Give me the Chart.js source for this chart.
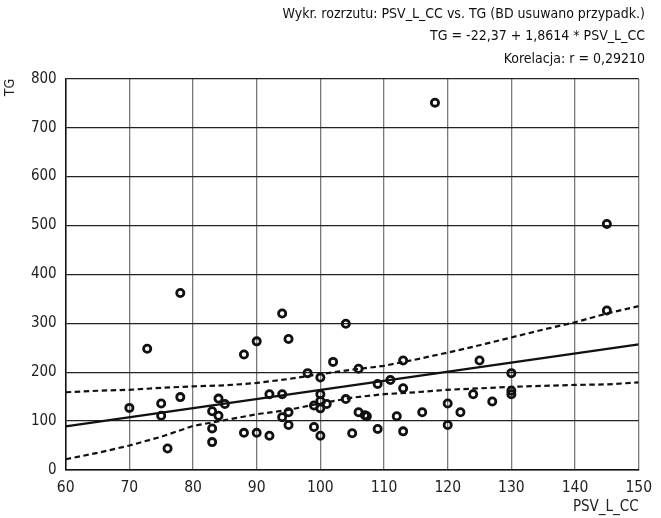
<!DOCTYPE html>
<html>
<head>
<meta charset="utf-8">
<script src="https://cdn.jsdelivr.net/npm/chart.js@4.4.1/dist/chart.umd.min.js"></script>
<style>
  html, body { margin: 0; padding: 0; background: #ffffff; }
  #wrap { width: 661px; height: 518px; }
</style>
</head>
<body>
<div id="wrap"><canvas id="c" width="661" height="518"></canvas></div>
<script>
// ---- data ----
const titleLines = [
  'Wykr. rozrzutu: PSV_L_CC vs. TG (BD usuwano przypadk.)',
  'TG = -22,37 + 1,8614 * PSV_L_CC',
  'Korelacja: r = 0,29210'
];
const xTitle = 'PSV_L_CC';
const yTitle = 'TG';

// scatter points (PSV_L_CC, TG)
const psv = [70, 72.8, 75, 75, 76, 78, 78, 83, 83, 83, 84, 84, 85, 88, 88, 90, 90, 92, 92, 94,
             94, 94, 95, 95, 95, 98, 99, 99, 100, 100, 100, 100, 100, 101, 102, 104, 104, 105, 106, 106,
             107, 107.3, 109, 109, 111, 112, 113, 113, 113, 116, 118, 120, 120, 122, 124, 125, 127, 130, 130, 130,
             145, 145];
const tg  = [127, 248, 136, 111, 44, 362, 149, 120, 85, 57, 146, 111, 135, 236, 76, 263, 76, 155, 70, 320,
             155, 108, 268, 118, 92, 198, 132, 88, 189, 155, 141, 126, 70, 135, 221, 299, 145, 75, 207, 118,
             112, 110, 176, 84, 184, 110, 224, 167, 79, 118, 751, 136, 92, 118, 155, 224, 140, 198, 162, 155,
             326, 503];

// regression line end points
const fitX = [60, 150];
const fitY = [89.3, 256.8];

// confidence band (dashed) read at every 5 units
const bandX     = [60, 65, 70, 75, 80, 85, 90, 95, 100, 105, 110, 115, 120, 125, 130, 135, 140, 145, 150];
const bandUpper = [159, 162, 164, 168, 171, 173, 178, 186, 196, 205, 213, 226, 240, 255, 271, 287, 302, 320, 335];
const bandLower = [22, 35, 50, 68, 90, 102, 114, 123, 136, 148, 155, 159, 164, 167, 170, 172, 174, 175, 179];

// axis ticks
const xTicks = [60, 70, 80, 90, 100, 110, 120, 130, 140, 150];
const yTicks = [0, 100, 200, 300, 400, 500, 600, 700, 800];

// ---- build chart ----
const FONT = "'DejaVu Sans Condensed', 'Liberation Sans Narrow', sans-serif";
const pts = (xa, ya) => xa.map((x, i) => ({ x: x, y: ya[i] }));

new Chart(document.getElementById('c'), {
  type: 'scatter',
  data: {
    datasets: [
      {
        type: 'line', data: pts(bandX, bandUpper), borderColor: '#111', borderWidth: 2.2,
        borderDash: [5.5, 3.5], pointRadius: 0, fill: false, tension: 0, order: 3
      },
      {
        type: 'line', data: pts(bandX, bandLower), borderColor: '#111', borderWidth: 2.2,
        borderDash: [5.5, 3.5], pointRadius: 0, fill: false, tension: 0, order: 3
      },
      {
        type: 'line', data: pts(fitX, fitY), borderColor: '#111', borderWidth: 2.4,
        pointRadius: 0, fill: false, tension: 0, order: 2
      },
      {
        data: pts(psv, tg), showLine: false, pointStyle: 'circle', pointRadius: 3.6,
        borderWidth: 2.8, borderColor: '#111', backgroundColor: 'rgba(0,0,0,0)', order: 1
      }
    ]
  },
  options: {
    responsive: false,
    animation: false,
    devicePixelRatio: 1,
    layout: { padding: { left: 0, right: 16, top: 0, bottom: 0 } },
    plugins: {
      legend: { display: false },
      tooltip: { enabled: false },
      title: {
        display: true, text: titleLines, align: 'end', color: '#111',
        font: { family: FONT, size: 14, weight: 'normal', lineHeight: '22.5px' },
        padding: { top: 2.75, bottom: 8.45 }
      }
    },
    scales: {
      x: {
        type: 'linear', min: 60, max: 150,
        afterBuildTicks: s => { s.ticks = xTicks.map(v => ({ value: v })); },
        afterFit: s => { s.height = 48; },
        grid: { color: '#7a7a7a', lineWidth: 1.3, drawTicks: false },
        border: { color: '#111', width: 1.5 },
        ticks: { color: '#222', padding: 9, font: { family: FONT, size: 15.5 } },
        title: {
          display: true, text: xTitle, align: 'end', color: '#222',
          font: { family: FONT, size: 15, lineHeight: 1.2 }, padding: { top: 0, bottom: 1.5 }
        }
      },
      y: {
        type: 'linear', min: 0, max: 800,
        afterBuildTicks: s => { s.ticks = yTicks.map(v => ({ value: v })); },
        afterFit: s => { s.width = 65.7; },
        grid: { color: '#222', lineWidth: 1.2, drawTicks: false },
        border: { color: '#111', width: 1.5 },
        ticks: { color: '#222', padding: 9, font: { family: FONT, size: 15 } },
        title: {
          display: true, text: yTitle, align: 'end', color: '#222',
          font: { family: FONT, size: 14, lineHeight: 1.2 }, padding: { top: 1.5, bottom: 0 }
        }
      }
    }
  }
});
</script>
</body>
</html>
